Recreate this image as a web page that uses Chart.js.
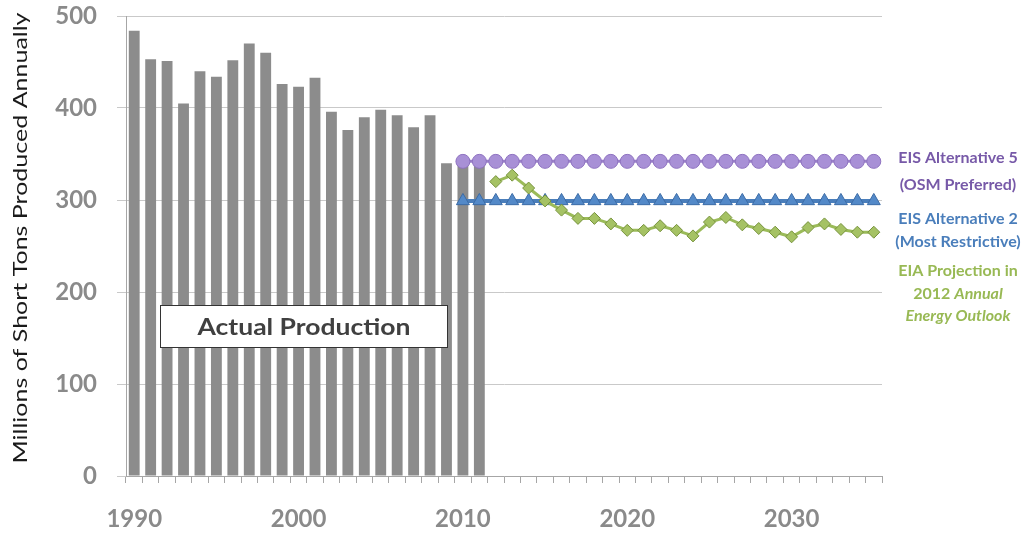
<!DOCTYPE html>
<html>
<head>
<meta charset="utf-8">
<script src="https://cdn.jsdelivr.net/npm/chart.js@4.4.1/dist/chart.umd.min.js"></script>
<style>
  html, body { margin: 0; padding: 0; background: #ffffff; }
  #wrap { width: 1035px; height: 536px; position: relative; }
</style>
</head>
<body>
<div id="wrap"><canvas id="chart" width="1035" height="536"></canvas></div>
<script>
// Calendar years on the category axis
const years = [1990, 1991, 1992, 1993, 1994, 1995, 1996, 1997, 1998, 1999,
               2000, 2001, 2002, 2003, 2004, 2005, 2006, 2007, 2008, 2009,
               2010, 2011, 2012, 2013, 2014, 2015, 2016, 2017, 2018, 2019,
               2020, 2021, 2022, 2023, 2024, 2025, 2026, 2027, 2028, 2029,
               2030, 2031, 2032, 2033, 2034, 2035];

// Actual production, 1990-2011 (millions of short tons)
const actualStart = 1990;
const actualProduction = [484, 453, 451, 405, 440, 434, 452, 470, 460, 426,
                          423, 433, 396, 376, 390, 398, 392, 379, 392, 340,
                          338, 340];

// EIS Alternative 5 (OSM Preferred), 2010-2035
const alt5Start = 2010;
const alt5 = [342, 342, 342, 342, 342, 342, 342, 342, 342, 342, 342, 342, 342,
              342, 342, 342, 342, 342, 342, 342, 342, 342, 342, 342, 342, 342];

// EIS Alternative 2 (Most Restrictive), 2010-2035
const alt2Start = 2010;
const alt2 = [299, 299, 299, 299, 299, 299, 299, 299, 299, 299, 299, 299, 299,
              299, 299, 299, 299, 299, 299, 299, 299, 299, 299, 299, 299, 299];

// EIA projection, 2012 Annual Energy Outlook, 2012-2035
const eiaStart = 2012;
const eiaProjection = [320, 327, 313, 299, 289, 280, 280, 274, 267, 267, 272, 267,
                       261, 276, 281, 273, 269, 265, 260, 270, 274, 268, 265, 265];

// Y axis ticks
const yTicks = [0, 100, 200, 300, 400, 500];
// Years that carry a label on the x axis
const labelledYears = [1990, 2000, 2010, 2020, 2030];

// Place a series that begins at startYear onto the full year axis
function alignToYears(values, startYear) {
  return years.map(y => {
    const i = y - startYear;
    return (i >= 0 && i < values.length) ? values[i] : null;
  });
}

const FONT = "Lato, 'Open Sans', 'Liberation Sans', sans-serif";

// Draw a string centred on (cx, cy), stretched or squeezed to the given width
function fitText(ctx, text, cx, cy, width) {
  const w = ctx.measureText(text).width;
  ctx.save();
  ctx.translate(cx, cy);
  ctx.scale(width / w, 1);
  ctx.textAlign = 'center';
  ctx.textBaseline = 'middle';
  ctx.fillText(text, 0, 0);
  ctx.restore();
}

// Vertical axis title
const axisTitlePlugin = {
  id: 'axisTitle',
  afterDraw(chart) {
    const { ctx } = chart;
    ctx.save();
    ctx.translate(21, 238);
    ctx.rotate(-Math.PI / 2);
    ctx.fillStyle = '#1a1a1a';
    ctx.font = "20px " + FONT;
    fitText(ctx, 'Millions of Short Tons Produced Annually', 0, 0, 451);
    ctx.restore();
  }
};

// Boxed caption over the historical bars
const captionPlugin = {
  id: 'caption',
  afterDatasetsDraw(chart) {
    const { ctx, chartArea } = chart;
    const x0 = chartArea.left + 34, x1 = chartArea.left + 322;
    const y0 = chartArea.top + 289, y1 = chartArea.top + 332;
    ctx.save();
    ctx.fillStyle = '#ffffff';
    ctx.fillRect(x0, y0, x1 - x0, y1 - y0);
    ctx.strokeStyle = '#333333';
    ctx.lineWidth = 1;
    ctx.strokeRect(x0 + 0.5, y0 + 0.5, x1 - x0 - 1, y1 - y0 - 1);
    ctx.fillStyle = '#404040';
    ctx.font = "bold 23px " + FONT;
    fitText(ctx, 'Actual Production', (x0 + x1) / 2, (y0 + y1) / 2 + 1, 213);
    ctx.restore();
  }
};

// Series names written beside the right end of each line
const seriesLabelPlugin = {
  id: 'seriesLabels',
  afterDraw(chart) {
    const { ctx, chartArea } = chart;
    const cx = chartArea.right + 76;
    const blocks = [
      { color: '#7759A8', lines: [[['EIS Alternative 5', false]], [['(OSM Preferred)', false]]], y: [158, 185] },
      { color: '#4A7EBB', lines: [[['EIS Alternative 2', false]], [['(Most Restrictive)', false]]], y: [219, 242] },
      { color: '#98B954', lines: [[['EIA Projection in', false]], [['2012 ', false], ['Annual', true]], [['Energy Outlook', true]]], y: [271, 294, 316] }
    ];
    ctx.save();
    ctx.textBaseline = 'middle';
    ctx.textAlign = 'left';
    blocks.forEach(b => {
      ctx.fillStyle = b.color;
      b.lines.forEach((parts, li) => {
        const fonts = parts.map(p => (p[1] ? 'italic ' : '') + 'bold 16px ' + FONT);
        let total = 0;
        parts.forEach((p, k) => { ctx.font = fonts[k]; total += ctx.measureText(p[0]).width; });
        let x = cx - total / 2;
        parts.forEach((p, k) => {
          ctx.font = fonts[k];
          ctx.fillText(p[0], x, b.y[li]);
          x += ctx.measureText(p[0]).width;
        });
      });
    });
    ctx.restore();
  }
};

function build() {
  const ctx = document.getElementById('chart').getContext('2d');
  new Chart(ctx, {
    type: 'bar',
    data: {
      labels: years.map(String),
      datasets: [
        {
          type: 'line',
          label: 'EIA Projection in 2012 Annual Energy Outlook',
          data: alignToYears(eiaProjection, eiaStart),
          borderColor: '#9BBB59',
          borderWidth: 3,
          pointStyle: 'rectRot',
          pointRadius: 6,
          pointBackgroundColor: '#A5C264',
          pointBorderColor: '#76923C',
          pointBorderWidth: 1,
          spanGaps: false,
          order: 1
        },
        {
          type: 'line',
          label: 'EIS Alternative 2 (Most Restrictive)',
          data: alignToYears(alt2, alt2Start),
          borderColor: '#4A7EBB',
          borderWidth: 4,
          pointStyle: 'triangle',
          pointRadius: 7.5,
          pointBackgroundColor: '#5389C8',
          pointBorderColor: '#3B6BA6',
          pointBorderWidth: 1,
          order: 2
        },
        {
          type: 'line',
          label: 'EIS Alternative 5 (OSM Preferred)',
          data: alignToYears(alt5, alt5Start),
          borderColor: '#9A80C9',
          borderWidth: 3,
          pointStyle: 'circle',
          pointRadius: 7,
          pointBackgroundColor: '#A890D6',
          pointBorderColor: '#8E72C0',
          pointBorderWidth: 1,
          order: 3
        },
        {
          type: 'bar',
          label: 'Actual Production',
          data: alignToYears(actualProduction, actualStart),
          backgroundColor: '#8C8C8C',
          borderWidth: 0,
          barPercentage: 0.66,
          categoryPercentage: 1.0,
          order: 4
        }
      ]
    },
    options: {
      responsive: false,
      animation: false,
      devicePixelRatio: 1,
      layout: { padding: { top: 0, right: 153, left: 0, bottom: 0 } },
      plugins: { legend: { display: false }, tooltip: { enabled: false } },
      scales: {
        x: {
          grid: { display: true, drawOnChartArea: false, drawTicks: true, tickLength: 7, color: '#a6a6a6', offset: true },
          border: { display: true, color: '#a6a6a6', width: 1 },
          ticks: {
            autoSkip: false,
            maxRotation: 0,
            padding: 22,
            color: '#8a8a8a',
            font: { family: FONT, size: 24, weight: 'bold' },
            callback: (v, i) => labelledYears.includes(years[i]) ? String(years[i]) : ''
          },
          afterFit: s => { s.height = 60; }
        },
        y: {
          min: 0,
          max: 500,
          afterBuildTicks: s => { s.ticks = yTicks.map(v => ({ value: v })); },
          grid: { color: '#c9c9c9', tickLength: 9, lineWidth: 1 },
          border: { display: true, color: '#a6a6a6', width: 1 },
          ticks: {
            padding: 20,
            color: '#8a8a8a',
            font: { family: FONT, size: 24, weight: 'bold', lineHeight: 1.1 }
          },
          afterFit: s => { s.width = 126; s.paddingTop = 16; s.paddingBottom = 0; }
        }
      }
    },
    plugins: [captionPlugin, seriesLabelPlugin, axisTitlePlugin]
  });
}

const fontLoads = [
  "bold 24px Lato", "20px Lato", "bold 16px Lato", "italic bold 16px Lato", "bold 23px Lato"
].map(f => document.fonts.load(f).catch(() => null));
Promise.all(fontLoads).then(build, build);
</script>
</body>
</html>
